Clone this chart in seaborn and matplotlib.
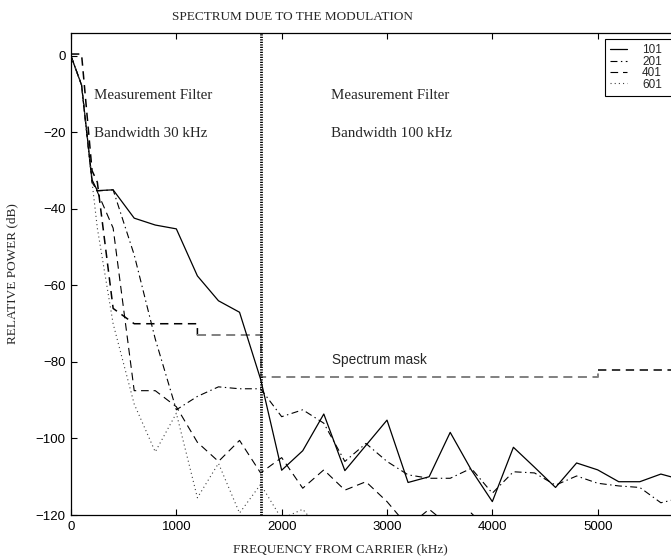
import matplotlib
matplotlib.use("Agg")
import matplotlib.pyplot as plt
import seaborn as sns

# Frequency offsets from the carrier (kHz)
FREQ = [0, 100, 200, 250, 400, 600, 800, 1000, 1200, 1400, 1600, 1800,
        2000, 2200, 2400, 2600, 2800, 3000, 3200, 3400, 3600, 3800, 4000,
        4200, 4400, 4600, 4800, 5000, 5200, 5400, 5600, 5800, 6000]

# Relative power (dB) for each case
P101 = [0, -7.6, -32.4, -35.2, -35, -42.4, -44.2, -45.2, -57.5, -64, -67, -84.5,
        -108.3, -103.2, -93.6, -108.4, -101.8, -95.2, -111.5, -110, -98.4, -108.2,
        -116.5, -102.3, -107.5, -112.8, -106.4, -108.2, -111.3, -111.3, -109.3,
        -110.8, -110.5]
P201 = [0, -7.6, -33, -35.3, -35, -52, -74, -92.5, -89, -86.5, -87, -87,
        -94.3, -92.5, -96, -106, -101.3, -106, -109.5, -110.4, -110.4, -107.8,
        -114.3, -108.7, -109, -112.2, -109.8, -111.7, -112.4, -112.8, -116.8,
        -115.5, -115]
FREQ_401 = FREQ[:23]
P401 = [0, -7.6, -33, -35.5, -45, -87.5, -87.5, -91.7, -101, -106, -100.5, -109,
        -105, -113, -108.2, -113.5, -111.3, -116.5, -123, -118.5, -123, -119.5,
        -125]
FREQ_601 = FREQ[:15]
P601 = [0, -7.6, -33, -45, -70, -91, -103.5, -93.4, -115.5, -106.5, -119.5, -112,
        -121, -118.5, -125]

# Spectrum mask pieces (kHz, dB)
MASK_NEAR_F = [0, 100, 200, 250, 400, 600, 1200, 1200]
MASK_NEAR_DB = [0.5, 0.5, -30, -33, -66, -70, -70, -73]
MASK_MID_F = [1200, 1800, 1800, 5000, 5000]
MASK_MID_DB = [-73, -73, -84, -84, -82]
MASK_FAR_F = [5000, 6000]
MASK_FAR_DB = [-82, -82]

FILTER_SWITCH_KHZ = 1800

X_TICKS = [0, 1000, 2000, 3000, 4000, 5000]
Y_TICKS = [-120, -100, -80, -60, -40, -20, 0]

sns.set_style("ticks")
plt.rcParams["lines.scale_dashes"] = False
plt.rcParams["font.family"] = ["Liberation Sans", "DejaVu Sans"]
plt.rcParams["axes.unicode_minus"] = True

SERIF = ["Liberation Serif", "DejaVu Serif"]

fig = plt.figure(figsize=(6.71, 5.56), dpi=100)
ax = fig.add_axes([71 / 671, 1 - 515 / 556, 632 / 671, 482 / 556])

common = dict(ax=ax, estimator=None, sort=False, color="black")

# Mask
sns.lineplot(x=MASK_NEAR_F, y=MASK_NEAR_DB, lw=1.1, linestyle=(0, (6, 4)), **common)
sns.lineplot(x=MASK_MID_F, y=MASK_MID_DB, lw=1.4, linestyle=(0, (6.5, 4)),
             ax=ax, estimator=None, sort=False, color="0.5")
sns.lineplot(x=MASK_FAR_F, y=MASK_FAR_DB, lw=1.1, linestyle=(0, (6, 4)), **common)

# Measured spectra
sns.lineplot(x=FREQ, y=P101, lw=0.9, linestyle="-", label="101", **common)
sns.lineplot(x=FREQ, y=P201, lw=0.8, linestyle=(0, (5, 2.5, 1, 2.5)), label="201", **common)
sns.lineplot(x=FREQ_401, y=P401, lw=0.8, linestyle=(0, (5.5, 3.5)), label="401", **common)
sns.lineplot(x=FREQ_601, y=P601, lw=0.8, linestyle=(0, (0.8, 2.2)), label="601",
             ax=ax, estimator=None, sort=False, color="0.25")

ax.axvline(FILTER_SWITCH_KHZ, color="black", lw=2.0, linestyle=(0, (0.9, 0.9)))

ax.set_xlim(0, 6000)
ax.set_ylim(-120, 6)
ax.set_xticks(X_TICKS)
ax.set_yticks(Y_TICKS)
ax.tick_params(direction="in", length=4, width=0.8, top=True, right=True,
               labelsize=9.5, pad=4, colors="black")
for s in ax.spines.values():
    s.set_linewidth(0.9)
    s.set_color("black")

ax.set_title("SPECTRUM DUE TO THE MODULATION", fontsize=9.5, family=SERIF,
             x=0.35, pad=9)
ax.set_xlabel("FREQUENCY FROM CARRIER (kHz)", fontsize=9.5, family=SERIF)
ax.set_ylabel("RELATIVE POWER (dB)", fontsize=9.5, family=SERIF)
ax.xaxis.set_label_coords(0.4256, -0.058)
ax.yaxis.set_label_coords(-0.084, 0.5)

ax.text(220, -10.3, "Measurement Filter", fontsize=10.8, family=SERIF, va="center")
ax.text(220, -20.2, "Bandwidth 30 kHz", fontsize=10.8, family=SERIF, va="center")
ax.text(2470, -10.3, "Measurement Filter", fontsize=10.8, family=SERIF, va="center")
ax.text(2470, -20.2, "Bandwidth 100 kHz", fontsize=10.8, family=SERIF, va="center")
ax.text(2475, -79.5, "Spectrum mask", fontsize=9.8, va="center")

# Legend box anchored at the upper right, reaching the axes' right side
handles, labels = ax.get_legend_handles_labels()
leg = ax.legend(handles, labels, loc="upper left", mode="expand",
                bbox_to_anchor=((605 - 71) / 632, (515 - 39) / 482,
                                (697 - 605) / 632, 0.0),
                fontsize=8.5, frameon=True, fancybox=False, edgecolor="black",
                framealpha=1, handlelength=1.4, handletextpad=1.3,
                labelspacing=-0.05, borderpad=0.45, borderaxespad=0.0)
leg.get_frame().set_linewidth(0.8)

fig.savefig("out.png", dpi=100)
